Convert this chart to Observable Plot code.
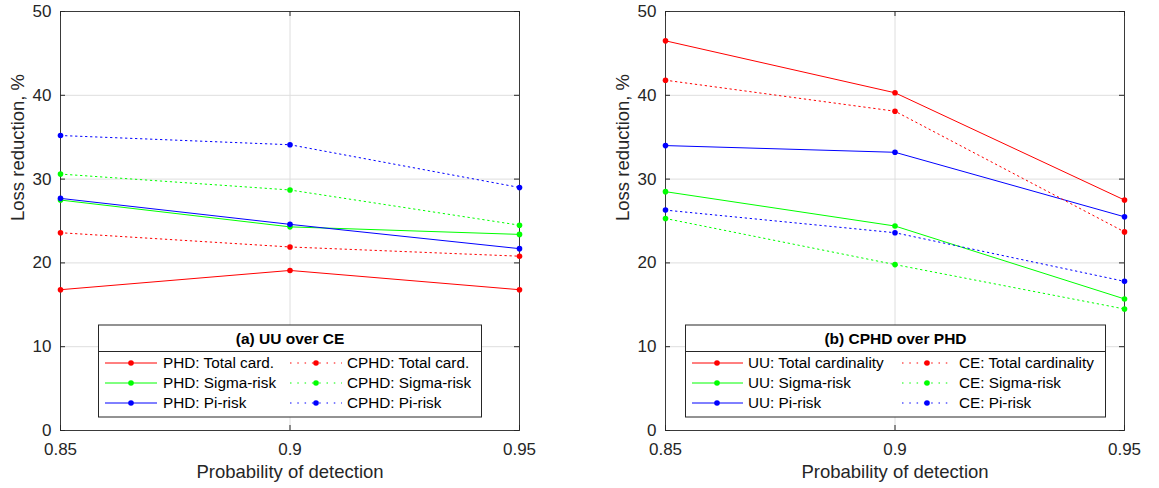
<!DOCTYPE html>
<html><head><meta charset="utf-8">
<script src="https://cdn.jsdelivr.net/npm/d3@7"></script>
<script src="https://cdn.jsdelivr.net/npm/@observablehq/plot@0.6"></script>
<style>
body{margin:0;background:#fff;}
#wrap{position:relative;width:1159px;height:488px;display:flex;}
svg{display:block;}
</style>
</head><body><div id="wrap"></div>
<script>
// ---- data ----
const pd = [0.85, 0.9, 0.95];
const xTicks = [0.85, 0.9, 0.95];
const xTickLabels = ["0.85", "0.9", "0.95"];
const yTicks = [0, 10, 20, 30, 40, 50];
const xLabel = "Probability of detection";
const yLabel = "Loss reduction, %";

// Panel (a): UU over CE
const titleA = "(a) UU over CE";
const namesA = ["PHD: Total card.", "PHD: Sigma-risk", "PHD: Pi-risk", "CPHD: Total card.", "CPHD: Sigma-risk", "CPHD: Pi-risk"];
const phdTotalA  = [16.8, 19.1, 16.8];
const phdSigmaA  = [27.5, 24.3, 23.4];
const phdPiA     = [27.7, 24.6, 21.7];
const cphdTotalA = [23.6, 21.9, 20.8];
const cphdSigmaA = [30.6, 28.7, 24.5];
const cphdPiA    = [35.2, 34.1, 29.0];

// Panel (b): CPHD over PHD
const titleB = "(b) CPHD over PHD";
const namesB = ["UU: Total cardinality", "UU: Sigma-risk", "UU: Pi-risk", "CE: Total cardinality", "CE: Sigma-risk", "CE: Pi-risk"];
const uuTotalB = [46.5, 40.3, 27.5];
const uuSigmaB = [28.5, 24.4, 15.7];
const uuPiB    = [34.0, 33.2, 25.5];
const ceTotalB = [41.8, 38.1, 23.7];
const ceSigmaB = [25.3, 19.8, 14.5];
const cePiB    = [26.3, 23.6, 17.8];

// ---- styles (kept separate from data) ----
const colors = ["#ff0000", "#00ff00", "#0000ff", "#ff0000", "#00ff00", "#0000ff"];
const dashes = [null, null, null, "1.5,3.5", "1.5,3.5", "1.5,3.5"];
const legendDashes = [null, null, null, "1.5,5.8", "1.5,5.8", "1.5,5.8"];
const FONT = "'Liberation Sans', Arial, Helvetica, sans-serif";
const INK = "#262626";

function toRows(values) { return values.map((v, i) => ({x: pd[i], y: v})); }

function panel(cfg) {
  const H = 488, mT = 11, mB = 58;
  const plotH = H - mT - mB;
  const plotW = cfg.width - cfg.marginLeft - cfg.marginRight;
  const marks = [
    Plot.gridY(yTicks, {stroke: "#dedede", strokeOpacity: 1}),
    Plot.gridX(xTicks, {stroke: "#dedede", strokeOpacity: 1}),
    Plot.frame({stroke: "#3a3a3a", strokeWidth: 1}),
    Plot.ruleX(xTicks, {insetBottom: plotH - 5, stroke: INK}),
    Plot.ruleX(xTicks, {insetTop: plotH - 5, stroke: INK}),
    Plot.ruleY(yTicks, {insetRight: plotW - 5, stroke: INK}),
    Plot.ruleY(yTicks, {insetLeft: plotW - 5, stroke: INK}),
  ];
  cfg.series.forEach((s, i) => {
    marks.push(Plot.line(toRows(s), {x: "x", y: "y", stroke: colors[i], strokeWidth: 1, strokeDasharray: dashes[i]}));
  });
  cfg.series.forEach((s, i) => {
    marks.push(Plot.dot(toRows(s), {x: "x", y: "y", r: 2.8, fill: colors[i], stroke: "none"}));
  });
  marks.push(
    Plot.axisX(xTicks, {tickSize: 0, tickPadding: 12, fontSize: 17, label: null, tickFormat: (d, i) => xTickLabels[i], fill: INK}),
    Plot.axisY(yTicks, {tickSize: 0, tickPadding: 9, fontSize: 17, label: null, fill: INK}),
    Plot.text([xLabel], {text: d => d, frameAnchor: "bottom", dy: 47, fontSize: 18.5, fill: INK}),
    Plot.text([yLabel], {text: d => d, frameAnchor: "left", rotate: -90, dx: -42, fontSize: 18.5, fill: INK})
  );
  const svg = Plot.plot({
    width: cfg.width, height: H,
    marginLeft: cfg.marginLeft, marginRight: cfg.marginRight, marginTop: mT, marginBottom: mB,
    x: {domain: [0.85, 0.95]},
    y: {domain: [0, 50]},
    style: {fontFamily: FONT, background: "#fff", overflow: "visible"},
    marks
  });
  // legend
  const L = cfg.legend;
  const g = d3.select(svg).append("g").attr("font-family", FONT).attr("text-anchor", "start");
  g.append("rect").attr("x", L.x0).attr("y", 325).attr("width", L.x1 - L.x0).attr("height", 92)
    .attr("fill", "#fff").attr("stroke", INK).attr("stroke-width", 1);
  g.append("line").attr("x1", L.x0).attr("x2", L.x1).attr("y1", 351.5).attr("y2", 351.5).attr("stroke", INK);
  g.append("text").attr("x", (L.x0 + L.x1) / 2).attr("y", 339).attr("dy", "0.35em")
    .attr("text-anchor", "middle").attr("font-weight", "bold").attr("font-size", 15.5).attr("fill", "#000").text(cfg.title);
  const rowsY = [363, 383, 403];
  cfg.names.forEach((name, i) => {
    const c = i < 3 ? L.c1 : L.c2;
    const yy = rowsY[i % 3];
    g.append("line").attr("x1", c.l0).attr("x2", c.l1).attr("y1", yy).attr("y2", yy)
      .attr("stroke", colors[i]).attr("stroke-width", 1).attr("stroke-dasharray", legendDashes[i]);
    g.append("circle").attr("cx", c.m).attr("cy", yy).attr("r", 2.8).attr("fill", colors[i]);
    g.append("text").attr("x", c.t).attr("y", yy).attr("dy", "0.35em").attr("text-anchor", "start")
      .attr("font-size", 15.3).attr("fill", "#000").text(name);
  });
  return svg;
}

const wrap = document.getElementById("wrap");
wrap.appendChild(panel({
  width: 580, marginLeft: 60, marginRight: 61,
  series: [phdTotalA, phdSigmaA, phdPiA, cphdTotalA, cphdSigmaA, cphdPiA],
  names: namesA, title: titleA,
  legend: {x0: 98.5, x1: 481.5, c1: {l0: 105, l1: 157, m: 131, t: 163}, c2: {l0: 290, l1: 342, m: 316, t: 347}}
}));
wrap.appendChild(panel({
  width: 579, marginLeft: 85, marginRight: 35,
  series: [uuTotalB, uuSigmaB, uuPiB, ceTotalB, ceSigmaB, cePiB],
  names: namesB, title: titleB,
  legend: {x0: 105.5, x1: 525.5, c1: {l0: 112, l1: 163, m: 137, t: 168}, c2: {l0: 322, l1: 373, m: 347, t: 379}}
}));
</script>
</body></html>
